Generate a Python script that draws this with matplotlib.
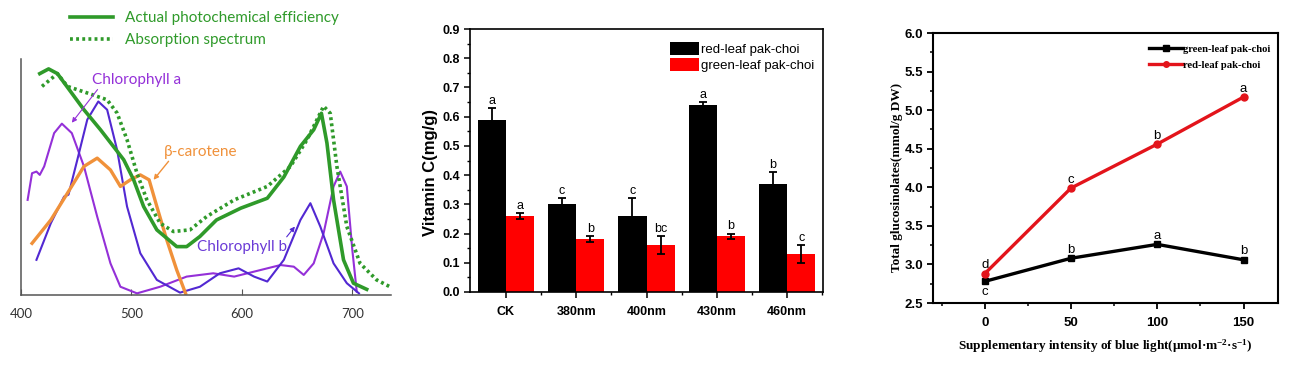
import matplotlib
matplotlib.use("Agg")
import matplotlib.pyplot as plt
import numpy as np
from matplotlib.ticker import MultipleLocator

plt.rcParams["mathtext.fontset"] = "custom"
plt.rcParams["mathtext.rm"] = "Liberation Serif:bold"
plt.rcParams["mathtext.bf"] = "Liberation Serif:bold"
plt.rcParams["mathtext.it"] = "Liberation Serif:bold:italic"

# ---------------- Panel 1 data (wavelength nm, relative absorbance) ----------------
eff_wl = [417, 425, 433, 457, 472, 493, 502, 511, 523, 541, 550, 562, 577, 599, 623, 638, 653, 665, 672, 677, 683, 692, 701, 713]
eff_val = [0.938, 0.958, 0.938, 0.785, 0.70, 0.573, 0.488, 0.375, 0.276, 0.205, 0.205, 0.248, 0.318, 0.368, 0.41, 0.50, 0.63, 0.70, 0.77, 0.644, 0.403, 0.149, 0.05, 0.024]

abs_wl = [419, 433, 442, 460, 478, 487, 496, 505, 514, 526, 538, 553, 568, 593, 623, 644, 659, 674, 680, 686, 695, 707, 722, 734]
abs_val = [0.884, 0.938, 0.884, 0.856, 0.827, 0.771, 0.658, 0.516, 0.403, 0.304, 0.269, 0.276, 0.332, 0.403, 0.46, 0.545, 0.658, 0.80, 0.77, 0.545, 0.29, 0.134, 0.064, 0.035]

car_wl = [410, 427, 442, 457, 469, 481, 490, 499, 508, 516, 523, 532, 541, 549]
car_val = [0.219, 0.318, 0.431, 0.545, 0.58, 0.53, 0.46, 0.488, 0.509, 0.488, 0.375, 0.233, 0.106, 0.007]

chla_wl = [406, 410, 414, 417, 421, 430, 437, 446, 457, 469, 481, 490, 505, 526, 550, 574, 593, 617, 635, 647, 656, 665, 674, 683, 689, 695, 700, 704]
chla_val = [0.403, 0.516, 0.523, 0.509, 0.545, 0.686, 0.726, 0.686, 0.545, 0.332, 0.134, 0.035, 0.007, 0.035, 0.078, 0.092, 0.078, 0.106, 0.127, 0.12, 0.085, 0.134, 0.262, 0.46, 0.523, 0.46, 0.19, 0.014]

chlb_wl = [414, 427, 439, 443, 451, 460, 470, 478, 487, 496, 508, 523, 544, 562, 580, 597, 611, 623, 638, 653, 662, 671, 683, 695, 706]
chlb_val = [0.149, 0.304, 0.417, 0.425, 0.573, 0.743, 0.82, 0.785, 0.615, 0.375, 0.177, 0.064, 0.01, 0.035, 0.092, 0.113, 0.078, 0.057, 0.149, 0.318, 0.389, 0.29, 0.134, 0.05, 0.007]

wl_ticks = [400, 500, 600, 700]

# ---------------- Panel 2 data ----------------
vc_categories = ["CK", "380nm", "400nm", "430nm", "460nm"]
vc_red_leaf = [0.59, 0.30, 0.26, 0.64, 0.37]
vc_red_leaf_err = [0.04, 0.02, 0.06, 0.01, 0.04]
vc_red_leaf_letters = ["a", "c", "c", "a", "b"]
vc_green_leaf = [0.26, 0.18, 0.16, 0.19, 0.13]
vc_green_leaf_err = [0.01, 0.01, 0.03, 0.01, 0.03]
vc_green_leaf_letters = ["a", "b", "bc", "b", "c"]

# ---------------- Panel 3 data ----------------
blue_intensity = [0, 50, 100, 150]
gl_green_leaf = [2.78, 3.08, 3.26, 3.06]
gl_green_letters = ["c", "b", "a", "b"]
gl_red_leaf = [2.88, 3.99, 4.56, 5.17]
gl_red_letters = ["d", "c", "b", "a"]

W, H = 1300, 366
fig = plt.figure(figsize=(13, 3.66), dpi=100)

def box(l, t, r, b):
    return [l / W, 1 - b / H, (r - l) / W, (b - t) / H]

# ================= Panel 1 =================
ax1 = fig.add_axes(box(21, 59, 391, 295))
green = "#2f9a2a"
orange = "#f0913a"
vio_a = "#9430d8"
vio_b = "#5228d2"
ax1.plot(chla_wl, chla_val, color=vio_a, lw=1.5)
ax1.plot(chlb_wl, chlb_val, color=vio_b, lw=1.5)
ax1.plot(car_wl, car_val, color=orange, lw=2.4)
l_abs, = ax1.plot(abs_wl, abs_val, color=green, lw=2.6, linestyle=(0, (0.8, 0.9)))
l_eff, = ax1.plot(eff_wl, eff_val, color=green, lw=2.6)
ax1.set_xlim(400, 735)
ax1.set_ylim(0, 1.0)
ax1.set_xticks(wl_ticks)
ax1.set_yticks([])
for s in ["top", "right"]:
    ax1.spines[s].set_visible(False)
for s in ["left", "bottom"]:
    ax1.spines[s].set_color("#555555")
    ax1.spines[s].set_linewidth(1.1)
ax1.tick_params(axis="x", direction="in", length=4, color="#555555", pad=9,
                labelsize=9.5, labelcolor="#333333")
for t in ax1.get_xticklabels():
    t.set_family("Lato")

ax1.annotate("Chlorophyll a", xy=(446, 0.73), xytext=(464, 0.912),
             color=vio_a, fontsize=11, family="Lato", ha="left", va="center",
             arrowprops=dict(arrowstyle="-|>", color=vio_a, lw=0.8, mutation_scale=7,
                             shrinkA=0, shrinkB=0, relpos=(0.09, 0.0)))
ax1.annotate("β-carotene", xy=(520, 0.488), xytext=(529, 0.608),
             color=orange, fontsize=11, family="Lato", ha="left", va="center",
             arrowprops=dict(arrowstyle="-|>", color=orange, lw=1.0, mutation_scale=7,
                             shrinkA=0, shrinkB=0, relpos=(0.1, 0.0)))
ax1.annotate("Chlorophyll b", xy=(648, 0.29), xytext=(559, 0.205),
             color="#6a3ad6", fontsize=11, family="Lato", ha="left", va="center",
             arrowprops=dict(arrowstyle="-|>", color=vio_b, lw=0.8, mutation_scale=7,
                             shrinkA=0, shrinkB=0, relpos=(0.97, 0.95)))

leg1 = fig.legend([l_eff, l_abs], ["Actual photochemical efficiency", "Absorption spectrum"],
                  loc="upper left", bbox_to_anchor=(70 / W, 1 - 11 / H), frameon=False,
                  handlelength=2.8, handletextpad=0.8, labelspacing=0.55,
                  borderpad=0, borderaxespad=0, prop={"family": "Lato", "size": 11})
for t in leg1.get_texts():
    t.set_color(green)

# ================= Panel 2 =================
ax2 = fig.add_axes(box(470, 29, 823, 292))
x = np.arange(len(vc_categories))
bw = 0.4
ax2.bar(x - bw / 2, vc_red_leaf, bw, color="black", label="red-leaf pak-choi",
        yerr=vc_red_leaf_err, error_kw=dict(ecolor="black", elinewidth=1.3, capsize=3, capthick=1.3))
ax2.bar(x + bw / 2, vc_green_leaf, bw, color="#ff0000", label="green-leaf pak-choi",
        yerr=vc_green_leaf_err, error_kw=dict(ecolor="black", elinewidth=1.3, capsize=3, capthick=1.3))
for i in range(len(x)):
    ax2.text(x[i] - bw / 2, vc_red_leaf[i] + vc_red_leaf_err[i] + 0.004, vc_red_leaf_letters[i],
             ha="center", va="bottom", fontsize=9, family="Liberation Sans")
    ax2.text(x[i] + bw / 2, vc_green_leaf[i] + vc_green_leaf_err[i] + 0.004, vc_green_leaf_letters[i],
             ha="center", va="bottom", fontsize=9, family="Liberation Sans")
ax2.set_xlim(-0.51, 4.51)
ax2.set_ylim(0, 0.9)
ax2.set_xticks(x)
ax2.set_xticklabels(vc_categories)
ax2.set_xticks(x + 0.5, minor=True)
ax2.yaxis.set_major_locator(MultipleLocator(0.1))
ax2.yaxis.set_minor_locator(MultipleLocator(0.05))
ax2.yaxis.set_major_formatter(matplotlib.ticker.FormatStrFormatter("%.1f"))
ax2.tick_params(axis="both", which="major", direction="out", length=4, width=1.1,
                labelsize=9, pad=3, top=False, right=False)
ax2.tick_params(axis="both", which="minor", direction="out", length=2.5, width=1.0,
                top=False, right=False)
ax2.tick_params(axis="x", which="major", pad=6)
for t in ax2.get_xticklabels() + ax2.get_yticklabels():
    t.set_family("Liberation Sans")
    t.set_fontweight("bold")
for s in ax2.spines.values():
    s.set_linewidth(1.2)
ax2.set_ylabel("Vitamin C(mg/g)", fontsize=12, fontweight="bold", family="Liberation Sans")
ax2.yaxis.set_label_coords(-0.113, 0.456)
ax2.yaxis.label.set_va("center")
ax2.legend(loc="upper right", bbox_to_anchor=(1.0, 0.985), frameon=False, handlelength=2.2,
           handleheight=1.1, handletextpad=0.1, labelspacing=0.15, borderpad=0.2,
           prop={"family": "Liberation Sans", "size": 9.5})

# ================= Panel 3 =================
ax3 = fig.add_axes(box(933, 33, 1278, 303))
ax3.plot(blue_intensity, gl_green_leaf, color="black", lw=2.4, marker="s", ms=5,
         label="green-leaf pak-choi")
ax3.plot(blue_intensity, gl_red_leaf, color="#e3141b", lw=2.4, marker="o", ms=5,
         label="red-leaf pak-choi")
for i, xv in enumerate(blue_intensity):
    ax3.text(xv, gl_red_leaf[i] + 0.03, gl_red_letters[i], ha="center", va="bottom",
             fontsize=9.5, family="Liberation Sans")
    if i == 0:
        ax3.text(xv, gl_green_leaf[i] - 0.06, gl_green_letters[i], ha="center", va="top",
                 fontsize=9.5, family="Liberation Sans")
    else:
        ax3.text(xv, gl_green_leaf[i] + 0.03, gl_green_letters[i], ha="center", va="bottom",
                 fontsize=9.5, family="Liberation Sans")
ax3.set_xlim(-30, 170)
ax3.set_ylim(2.5, 6.0)
ax3.set_xticks(blue_intensity)
ax3.xaxis.set_minor_locator(MultipleLocator(25))
ax3.yaxis.set_major_locator(MultipleLocator(0.5))
ax3.yaxis.set_minor_locator(MultipleLocator(0.25))
ax3.yaxis.set_major_formatter(matplotlib.ticker.FormatStrFormatter("%.1f"))
ax3.tick_params(axis="both", which="major", direction="out", length=4, width=1.3,
                labelsize=9.5, pad=3)
ax3.tick_params(axis="both", which="minor", direction="out", length=2.5, width=1.1)
ax3.tick_params(axis="x", which="major", pad=6)
for t in ax3.get_xticklabels() + ax3.get_yticklabels():
    t.set_family("Liberation Sans")
    t.set_fontweight("bold")
for s in ax3.spines.values():
    s.set_linewidth(1.5)
ax3.set_ylabel("Total glucosinolates(mmol/g DW)", fontsize=9.5, fontweight="bold",
               family="Liberation Serif")
ax3.yaxis.set_label_coords(-0.104, 0.465)
ax3.yaxis.label.set_va("center")
ax3.set_xlabel(r"Supplementary intensity of blue light(μmol·m$^{-2}$·s$^{-1}$)",
               fontsize=9.5, fontweight="bold", family="Liberation Serif")
ax3.xaxis.set_label_coords(0.5, -0.16)
ax3.xaxis.label.set_va("center")
ax3.legend(loc="upper right", bbox_to_anchor=(1.0, 0.985), frameon=False, handlelength=3.2,
           handletextpad=0.05, labelspacing=0.6, borderpad=0.2, markerscale=0.8,
           prop={"family": "Liberation Serif", "size": 7.7, "weight": "bold"})

fig.savefig("out.png", dpi=100)
